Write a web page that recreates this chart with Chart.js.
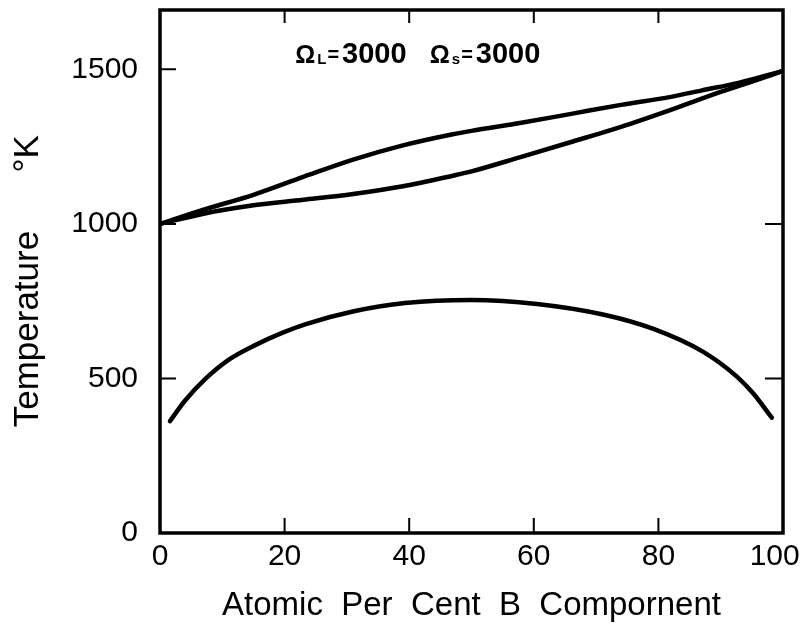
<!DOCTYPE html>
<html>
<head>
<meta charset="utf-8">
<script src="https://cdn.jsdelivr.net/npm/chart.js@4"></script>
<style>
  html, body { margin: 0; padding: 0; background: #fff; }
</style>
</head>
<body>
<canvas id="chart" width="803" height="634"></canvas>
<script>
// liquidus (upper curve)
var liquidusX = [0, 7, 15, 23, 31, 39, 47, 50, 58, 66, 74, 82, 87, 93, 100];
var liquidusT = [1000, 1046, 1094, 1152, 1208, 1254, 1290, 1301, 1327, 1356, 1385, 1411, 1432, 1457, 1495];
// solidus (lower curve)
var solidusX = [0, 7, 15, 23, 31, 39, 47, 50, 58, 66, 74, 82, 90, 95, 100];
var solidusT = [1000, 1033, 1060, 1078, 1097, 1122, 1156, 1170, 1217, 1265, 1314, 1369, 1427, 1460, 1495];
// miscibility gap (dome)
var gapX = [1.6, 4, 7.2, 11, 15.2, 19.7, 23.3, 31.3, 39.3, 50, 60.5, 71.1, 79.1, 87.2, 92.6, 95.2, 98.2];
var gapT = [362, 428, 497, 560, 607, 648, 675, 718, 744, 754, 741, 707, 661, 586, 506, 452, 373];

var xTicks = [0, 20, 40, 60, 80, 100];
var yTicks = [0, 500, 1000, 1500];
var innerXTicks = [20, 40, 60, 80];
var leftYTicks = [500, 1000, 1500];
var rightYTicks = [500, 1000];

// annotation anchors in data units
var noteL = [21.7, 1521];
var noteS = [43.3, 1521];

function pts(xs, ys) {
  return xs.map(function(x, i) { return { x: x, y: ys[i] }; });
}

var font = 'Liberation Sans';

var boxPlugin = {
  id: 'box',
  afterDatasetsDraw: function(chart) {
    var ctx = chart.ctx, a = chart.chartArea;
    var xs = chart.scales.x, ys = chart.scales.y;
    ctx.save();
    ctx.strokeStyle = '#000';
    ctx.lineWidth = 3.5;
    ctx.strokeRect(a.left, a.top, a.right - a.left, a.bottom - a.top);

    ctx.lineWidth = 2;
    ctx.beginPath();
    innerXTicks.forEach(function(v) {
      var px = xs.getPixelForValue(v);
      ctx.moveTo(px, a.bottom); ctx.lineTo(px, a.bottom - 15);
      ctx.moveTo(px, a.top); ctx.lineTo(px, a.top + 13);
    });
    leftYTicks.forEach(function(v) {
      var py = ys.getPixelForValue(v);
      ctx.moveTo(a.left, py); ctx.lineTo(a.left + 16, py);
    });
    rightYTicks.forEach(function(v) {
      var py = ys.getPixelForValue(v);
      ctx.moveTo(a.right, py); ctx.lineTo(a.right - 18, py);
    });
    ctx.stroke();

    // Ω labels
    ctx.fillStyle = '#000';
    ctx.textAlign = 'left';
    ctx.textBaseline = 'alphabetic';
    function piece(txt, size, x, y) {
      ctx.font = 'bold ' + size + 'px "' + font + '"';
      ctx.fillText(txt, x, y);
      return x + ctx.measureText(txt).width;
    }
    function note(anchor, sub) {
      var x = xs.getPixelForValue(anchor[0]);
      var y = ys.getPixelForValue(anchor[1]);
      x = piece('Ω', 25, x, y) + 2;
      x = piece(sub, 15, x, y + 1) + 1;
      x = piece('=', 20, x, y - 2) + 3;
      piece('3000', 29, x, y);
    }
    note(noteL, 'L');
    note(noteS, 's');
    ctx.restore();
  }
};

function lineSet(label, xs, ys) {
  return {
    label: label,
    data: pts(xs, ys),
    borderColor: '#000',
    borderWidth: 4.5,
    borderCapStyle: 'round',
    pointRadius: 0,
    fill: false,
    cubicInterpolationMode: 'monotone'
  };
}

new Chart(document.getElementById('chart'), {
  type: 'line',
  data: {
    datasets: [
      lineSet('Liquidus', liquidusX, liquidusT),
      lineSet('Solidus', solidusX, solidusT),
      lineSet('Miscibility gap', gapX, gapT)
    ]
  },
  options: {
    responsive: false,
    animation: false,
    layout: { padding: { top: 10, right: 20, left: 0, bottom: 0 } },
    plugins: { legend: { display: false }, tooltip: { enabled: false } },
    scales: {
      x: {
        type: 'linear',
        min: 0,
        max: 100,
        grid: { display: false, drawTicks: false },
        border: { display: false },
        ticks: {
          padding: 6,
          color: '#000',
          font: { family: font, size: 30 },
          // trailing spaces nudge the last label left, as in the original
          callback: function(v) { return v === 100 ? '100  ' : String(v); }
        },
        afterBuildTicks: function(s) { s.ticks = xTicks.map(function(v) { return { value: v }; }); },
        afterFit: function(s) { s.height = 101; s.paddingLeft = 0; s.paddingRight = 0; },
        title: {
          display: true,
          text: 'Atomic  Per  Cent  B  Compornent',
          color: '#000',
          font: { family: font, size: 33 },
          padding: { top: 0, bottom: 8 }
        }
      },
      y: {
        type: 'linear',
        min: 0,
        max: 1692,
        grid: { display: false, drawTicks: false },
        border: { display: false },
        ticks: {
          padding: 22,
          color: '#000',
          font: { family: font, size: 30 },
          callback: function(v) { return String(v); }
        },
        afterBuildTicks: function(s) { s.ticks = yTicks.map(function(v) { return { value: v }; }); },
        afterFit: function(s) { s.width = 160; s.paddingTop = 0; s.paddingBottom = 0; },
        title: {
          display: true,
          text: 'Temperature      °K  ',
          color: '#000',
          font: { family: font, size: 35 },
          padding: { top: 7, bottom: 0 }
        }
      }
    }
  },
  plugins: [boxPlugin]
});
</script>
</body>
</html>
